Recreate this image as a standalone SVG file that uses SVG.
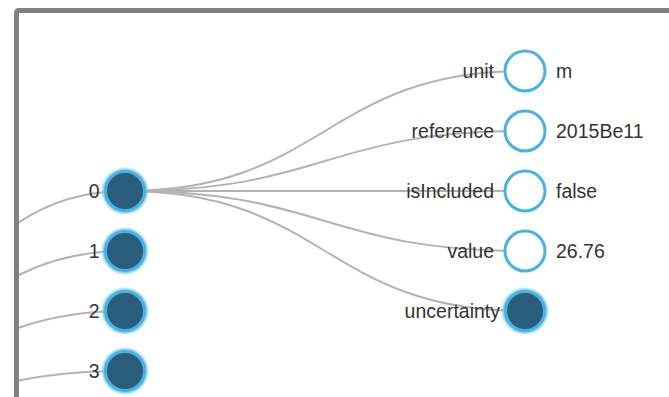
<svg xmlns="http://www.w3.org/2000/svg" width="669" height="397" viewBox="0 0 669 397">
  <style>
    .link { fill: none; stroke: #b3b3b3; stroke-width: 2; }
    .node-open { fill: #ffffff; stroke: #4ab2e0; stroke-width: 3; }
    .node-full { fill: #2a5d7b; stroke: #4ab2e0; stroke-width: 3; }
    .glow { fill: #6cc3ea; filter: url(#soft); }
    .label { font-family: "Liberation Sans", Arial, sans-serif; font-size: 19.5px; fill: #333333; }
    .key { text-anchor: end; }
  </style>
  <defs>
    <clipPath id="panel">
      <rect x="19" y="13" width="660" height="400"/>
    </clipPath>
    <filter id="soft" x="-30%" y="-30%" width="160%" height="160%">
      <feGaussianBlur stdDeviation="1.2"/>
    </filter>
  </defs>

  <rect x="0" y="0" width="669" height="397" fill="#ffffff"/>

  <g clip-path="url(#panel)">
    <g id="links">
      <path class="link" d="M-275,449 C-75,449 -75,191 125,191"/>
      <path class="link" d="M-275,449 C-75,449 -75,251 125,251"/>
      <path class="link" d="M-275,449 C-75,449 -75,311 125,311"/>
      <path class="link" d="M-275,449 C-75,449 -75,371 125,371"/>
      <path class="link" d="M125,191 C325,191 325,71 525,71"/>
      <path class="link" d="M125,191 C325,191 325,131 525,131"/>
      <path class="link" d="M125,191 C325,191 325,191 525,191"/>
      <path class="link" d="M125,191 C325,191 325,251 525,251"/>
      <path class="link" d="M125,191 C325,191 325,311 525,311"/>
    </g>

    <g id="node-0">
      <circle class="glow" cx="125" cy="191" r="22.5"/>
      <circle class="node-full" cx="125" cy="191" r="19.5"/>
      <text class="label key" x="99.5" y="198">0</text>
    </g>
    <g id="node-1">
      <circle class="glow" cx="125" cy="251" r="22.5"/>
      <circle class="node-full" cx="125" cy="251" r="19.5"/>
      <text class="label key" x="99.5" y="258">1</text>
    </g>
    <g id="node-2">
      <circle class="glow" cx="125" cy="311" r="22.5"/>
      <circle class="node-full" cx="125" cy="311" r="19.5"/>
      <text class="label key" x="99.5" y="318">2</text>
    </g>
    <g id="node-3">
      <circle class="glow" cx="125" cy="371" r="22.5"/>
      <circle class="node-full" cx="125" cy="371" r="19.5"/>
      <text class="label key" x="99.5" y="378">3</text>
    </g>

    <g id="node-unit">
      <circle class="node-open" cx="525" cy="71" r="20"/>
      <text class="label key" x="494" y="78">unit</text>
      <text class="label" x="556" y="78">m</text>
    </g>
    <g id="node-reference">
      <circle class="node-open" cx="525" cy="131" r="20"/>
      <text class="label key" x="494" y="138">reference</text>
      <text class="label" x="556" y="138">2015Be11</text>
    </g>
    <g id="node-isIncluded">
      <circle class="node-open" cx="525" cy="191" r="20"/>
      <text class="label key" x="494" y="198">isIncluded</text>
      <text class="label" x="556" y="198">false</text>
    </g>
    <g id="node-value">
      <circle class="node-open" cx="525" cy="251" r="20"/>
      <text class="label key" x="494" y="258">value</text>
      <text class="label" x="556" y="258">26.76</text>
    </g>
    <g id="node-uncertainty">
      <circle class="glow" cx="525" cy="311" r="22.5"/>
      <circle class="node-full" cx="525" cy="311" r="19.5"/>
      <text class="label key" x="500" y="318">uncertainty</text>
    </g>
  </g>

  <!-- panel frame -->
  <rect x="16.5" y="10.5" width="700" height="420" rx="2" fill="none" stroke="#808080" stroke-width="5"/>
</svg>
